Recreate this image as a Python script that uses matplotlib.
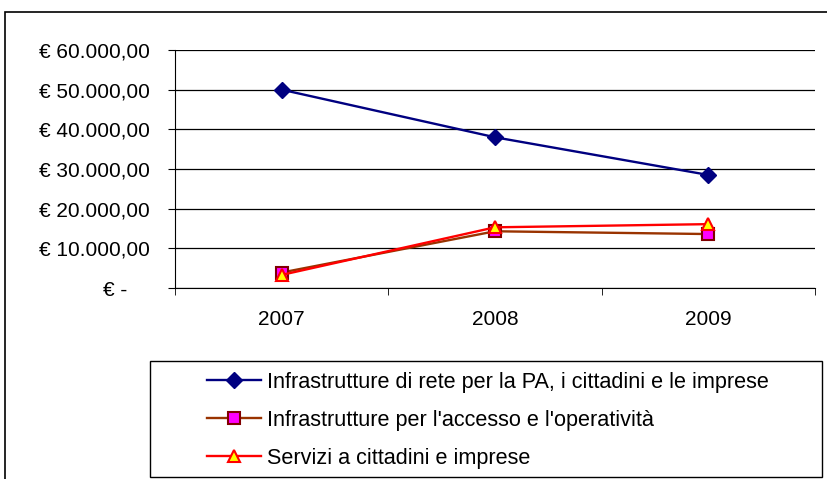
import matplotlib
matplotlib.use("Agg")
import matplotlib.pyplot as plt
from matplotlib.patches import Rectangle

plt.rcParams['font.family'] = ['Liberation Sans', 'DejaVu Sans']

years = ["2007", "2008", "2009"]
infra_rete = [50000, 38000, 28500]
infra_accesso = [3900, 14300, 13600]
servizi = [3300, 15300, 16100]
series_labels = [
    "Infrastrutture di rete per la PA, i cittadini e le imprese",
    "Infrastrutture per l'accesso e l'operatività",
    "Servizi a cittadini e imprese",
]
y_ticks = [0, 10000, 20000, 30000, 40000, 50000, 60000]
y_tick_labels = ["€ -    ", "€ 10.000,00", "€ 20.000,00", "€ 30.000,00",
                 "€ 40.000,00", "€ 50.000,00", "€ 60.000,00"]

W, H = 827, 479
FS = 15
LFS = 15.6
fig = plt.figure(figsize=(W / 100, H / 100), dpi=100)

def fx(px):
    return px / W

def fy(py):
    return 1 - py / H

ax = fig.add_axes([fx(175), fy(288), fx(815) - fx(175), fy(50) - fy(288)])
x = list(range(len(years)))

l1, = ax.plot(x, infra_rete, color="#000080", lw=1.7, marker="D", ms=8,
              mfc="#000080", mec="#000080", zorder=5)
l2, = ax.plot(x, infra_accesso, color="#993300", lw=1.7, marker="s", ms=9,
              mfc="#FF00FF", mec="#800000", mew=1.5, zorder=5)
l3, = ax.plot(x, servizi, color="#FF0000", lw=1.7, marker="^", ms=9,
              mfc="#FFFF00", mec="#FF0000", mew=1.5, zorder=6)

ax.set_xlim(-0.5, 2.5)
ax.set_ylim(0, 60000)
ax.set_yticks(y_ticks)
ax.set_yticklabels(y_tick_labels, fontsize=FS)
ax.set_xticks(x)
ax.set_xticklabels(years, fontsize=FS)
ax.set_xticks([-0.5, 0.5, 1.5, 2.5], minor=True)
ax.tick_params(axis="x", which="major", length=0, pad=16)
ax.tick_params(axis="x", which="minor", length=5, direction="out", color="black")
ax.tick_params(axis="y", which="major", length=5, direction="out", pad=13, color="black")
ax.grid(axis="y", color="black", lw=0.9)
ax.set_axisbelow(True)
for s in ["top", "right"]:
    ax.spines[s].set_visible(False)
ax.spines["left"].set_color("black")
ax.spines["bottom"].set_color("black")

# outer frame
fig.patches.append(Rectangle((fx(5), -0.1), 1.2, fy(12) + 0.1, transform=fig.transFigure,
                             fill=False, edgecolor="black", lw=1.2, clip_on=False))
# legend frame
fig.patches.append(Rectangle((fx(150), fy(477)), fx(822) - fx(150), fy(361) - fy(477),
                             transform=fig.transFigure, fill=False, edgecolor="black", lw=1.0))

fig.legend([l1, l2, l3], series_labels, loc="upper left",
           bbox_to_anchor=(fx(207), fy(372)), frameon=False, fontsize=LFS,
           handlelength=2.5, handletextpad=0.25, labelspacing=0.78,
           borderpad=0, borderaxespad=0)

fig.savefig("out.png", dpi=100)
